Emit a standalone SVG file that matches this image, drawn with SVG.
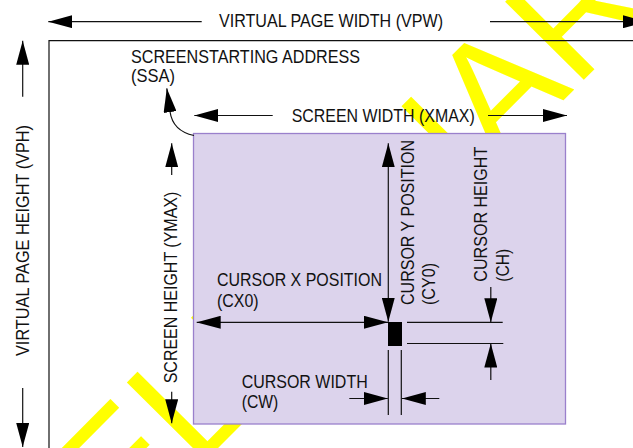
<svg xmlns="http://www.w3.org/2000/svg" width="633" height="448" viewBox="0 0 633 448">
  <defs>
    <marker id="ah" viewBox="0 0 24 13" refX="24" refY="6.5" markerWidth="24" markerHeight="13" markerUnits="userSpaceOnUse" orient="auto-start-reverse">
      <path d="M0,0 L24,6.5 L0,13 z" fill="#000"/>
    </marker>
    <style>
      .t { font-family: "Liberation Sans", Arial, sans-serif; font-size: 18px; fill: #111; }
      .ln { stroke: #111; stroke-width: 1.2; fill: none; }
      .arr { stroke: #111; stroke-width: 1.2; fill: none; marker-end: url(#ah); }
      .arr2 { stroke: #111; stroke-width: 1.2; fill: none; marker-start: url(#ah); marker-end: url(#ah); }
      .wm { font-family: "Liberation Sans", Arial, sans-serif; font-size: 161px; fill: #ffff00; }
    </style>
  </defs>

  <rect x="0" y="0" width="633" height="448" fill="#fff"/>

  <g id="watermark">
    <text class="wm" transform="translate(-37,705) rotate(-45.2)">PRELIMINARY</text>
  </g>

  <g id="virtual-page">
    <path class="ln" d="M640,40.7 H49 V460"/>
    <text class="t" x="219" y="27" textLength="224" lengthAdjust="spacingAndGlyphs">VIRTUAL PAGE WIDTH (VPW)</text>
    <text class="t" transform="translate(28.5,356) rotate(-90)" textLength="231" lengthAdjust="spacingAndGlyphs">VIRTUAL PAGE HEIGHT (VPH)</text>
  </g>

  <g id="ssa-label">
    <text class="t" x="131" y="63.3" textLength="229" lengthAdjust="spacingAndGlyphs">SCREENSTARTING ADDRESS</text>
    <text class="t" x="131" y="81.7" textLength="44" lengthAdjust="spacingAndGlyphs">(SSA)</text>
  </g>

  <g id="screen-labels">
    <text class="t" x="291.7" y="121.7" textLength="183" lengthAdjust="spacingAndGlyphs">SCREEN WIDTH (XMAX)</text>
    <text class="t" transform="translate(176.5,383.3) rotate(-90)" textLength="191.6" lengthAdjust="spacingAndGlyphs">SCREEN HEIGHT (YMAX)</text>
  </g>

  <g id="screen">
    <rect x="193.5" y="133.5" width="372" height="290.5" fill="#dcd3ec" stroke="#9a80cc" stroke-width="1.3"/>
  </g>

  <g id="cursor">
    <rect x="388" y="322" width="14" height="24" fill="#000"/>
  </g>

  <g id="cursor-labels">
    <text class="t" x="217" y="286" textLength="165" lengthAdjust="spacingAndGlyphs">CURSOR X POSITION</text>
    <text class="t" x="217" y="306.5" textLength="41.6" lengthAdjust="spacingAndGlyphs">(CX0)</text>
    <text class="t" transform="translate(413.5,305) rotate(-90)" textLength="165" lengthAdjust="spacingAndGlyphs">CURSOR Y POSITION</text>
    <text class="t" transform="translate(435,305) rotate(-90)" textLength="42" lengthAdjust="spacingAndGlyphs">(CY0)</text>
    <text class="t" transform="translate(486.7,281.7) rotate(-90)" textLength="135" lengthAdjust="spacingAndGlyphs">CURSOR HEIGHT</text>
    <text class="t" transform="translate(508.5,281.7) rotate(-90)" textLength="33" lengthAdjust="spacingAndGlyphs">(CH)</text>
    <text class="t" x="241.7" y="388.3" textLength="126" lengthAdjust="spacingAndGlyphs">CURSOR WIDTH</text>
    <text class="t" x="241.7" y="408" textLength="36.6" lengthAdjust="spacingAndGlyphs">(CW)</text>
  </g>

  <g id="connectors">
    <!-- VPW -->
    <line class="arr" x1="201.7" y1="21.7" x2="48.3" y2="21.7"/>
    <line class="arr" x1="490" y1="21.7" x2="647" y2="21.7"/>
    <!-- VPH -->
    <line class="arr" x1="22.7" y1="96.7" x2="22.7" y2="40.7"/>
    <line class="arr" x1="22.7" y1="388" x2="22.7" y2="447"/>
    <!-- SSA -->
    <path class="arr" d="M194,135.5 C182,133 172,126 170,111.5 L166.8,88.3"/>
    <!-- XMAX -->
    <line class="arr" x1="272.7" y1="115.5" x2="194.3" y2="115.5"/>
    <line class="arr" x1="488" y1="115.5" x2="567" y2="115.5"/>
    <!-- YMAX -->
    <line class="arr" x1="171.7" y1="175" x2="171.7" y2="143.3"/>
    <line class="arr" x1="171.7" y1="391.7" x2="171.7" y2="423.3"/>
    <!-- CX0 / CY0 -->
    <line class="arr2" x1="196.7" y1="322.3" x2="388" y2="322.3"/>
    <line class="arr2" x1="388.3" y1="143.3" x2="388.3" y2="321.7"/>
    <!-- CH -->
    <line class="ln" x1="407" y1="322.3" x2="502.7" y2="322.3"/>
    <line class="ln" x1="407" y1="343.5" x2="503.3" y2="343.5"/>
    <line class="arr" x1="490.8" y1="287" x2="490.8" y2="322.3"/>
    <line class="arr" x1="490.8" y1="380" x2="490.8" y2="343.5"/>
    <!-- CW -->
    <line class="ln" x1="388.3" y1="350" x2="388.3" y2="415"/>
    <line class="ln" x1="401.3" y1="350" x2="401.3" y2="415"/>
    <line class="arr" x1="349.3" y1="398.5" x2="387.8" y2="398.5"/>
    <line class="arr" x1="439.3" y1="398.5" x2="401.8" y2="398.5"/>
  </g>
</svg>
